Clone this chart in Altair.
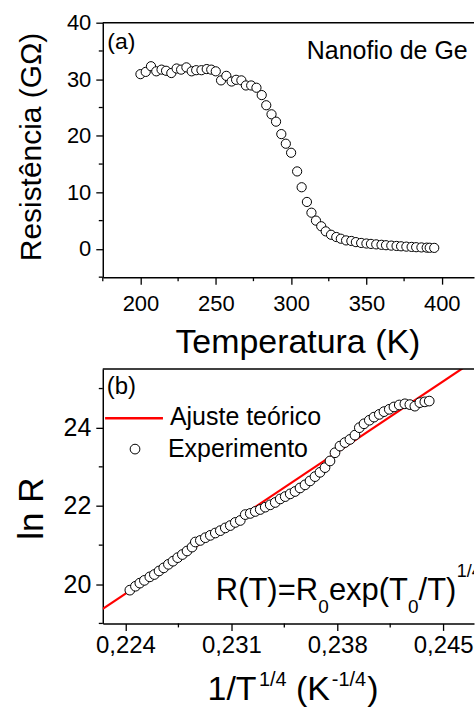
import altair as alt
import pandas as pd

FONT = "Liberation Sans"

# ---- Panel (a): resistance of the Ge nanowire vs temperature ----
temp_K = [200.0, 203.5, 207.0, 210.5, 214.0, 217.0, 220.5, 224.0, 227.0, 230.5,
          234.0, 237.0, 240.5, 244.0, 247.0, 250.0, 253.5, 257.0, 260.5, 263.5,
          267.0, 270.0, 273.5, 277.0, 280.5, 283.5, 287.0, 290.0, 293.5, 296.5,
          300.0, 304.0, 307.0, 310.5, 313.5, 316.5, 320.0, 323.0, 326.5, 330.0,
          333.0, 336.5, 340.0, 343.0, 346.5, 350.0, 353.0, 356.5, 360.0, 363.0,
          366.5, 370.0, 373.0, 376.5, 380.0, 383.0, 386.5, 390.0, 392.0, 395.0]
res_GOhm = [30.9, 31.3, 32.3, 31.4, 31.7, 31.5, 31.1, 31.9, 31.7, 32.1,
            31.4, 31.6, 31.6, 31.8, 31.7, 31.4, 29.8, 30.6, 29.6, 29.9,
            29.8, 28.9, 28.9, 28.5, 27.2, 25.4, 23.8, 22.5, 20.3, 18.6,
            17.0, 13.7, 10.9, 8.3, 6.4, 5.0, 4.0, 3.1, 2.5, 2.1,
            1.8, 1.5, 1.4, 1.2, 1.05, 0.95, 0.88, 0.8, 0.72, 0.65,
            0.58, 0.52, 0.46, 0.4, 0.35, 0.3, 0.26, 0.22, 0.2, 0.18]

# ---- Panel (b): ln R vs T^(-1/4) ----
inv_T14 = [0.22429, 0.22466, 0.22495, 0.22525, 0.22561, 0.22591, 0.22622, 0.22653,
           0.22684, 0.22714, 0.22745, 0.22776, 0.22807, 0.22840, 0.22862, 0.22895,
           0.22928, 0.22961, 0.22994, 0.23027, 0.23060, 0.23093, 0.23126, 0.23159,
           0.23192, 0.23225, 0.23258, 0.23291, 0.23324, 0.23357, 0.23390, 0.23423,
           0.23456, 0.23489, 0.23521, 0.23554, 0.23587, 0.23620, 0.23653, 0.23686,
           0.23719, 0.23752, 0.23785, 0.23818, 0.23851, 0.23884, 0.23917, 0.23946,
           0.23977, 0.24012, 0.24043, 0.24078, 0.24109, 0.24144, 0.24175, 0.24210,
           0.24247, 0.24280, 0.24313, 0.24346, 0.24379, 0.24408]
ln_R = [19.85, 19.95, 20.03, 20.10, 20.19, 20.25, 20.34, 20.42,
        20.51, 20.59, 20.68, 20.76, 20.85, 20.95, 21.08, 21.12,
        21.19, 21.25, 21.31, 21.37, 21.44, 21.50, 21.58, 21.63,
        21.78, 21.81, 21.86, 21.91, 21.97, 22.03, 22.09, 22.18,
        22.24, 22.31, 22.37, 22.46, 22.54, 22.64, 22.75, 22.86,
        22.98, 23.15, 23.36, 23.53, 23.62, 23.70, 23.81, 24.00,
        24.10, 24.19, 24.27, 24.34, 24.41, 24.47, 24.53, 24.58,
        24.61, 24.59, 24.55, 24.64, 24.66, 24.68]

# straight-line fit (Mott VRH): end points of the red line
fit_x = [0.2225, 0.2475]
fit_y = [19.372, 25.83]

# axis ticks
temp_ticks = [200, 250, 300, 350, 400]
temp_minor = [175, 225, 275, 325, 375]
res_ticks = [0, 10, 20, 30, 40]
res_minor = [-5, 5, 15, 25, 35]
xb_ticks = [0.224, 0.231, 0.238, 0.245]
xb_minor = [0.2275, 0.2345, 0.2415]
yb_ticks = [20, 22, 24]
yb_minor = [19, 21, 23, 25]

W, H = 372, 255

xa = alt.Scale(domain=[175, 421.4], nice=False, zero=False)
ya = alt.Scale(domain=[-5, 40], nice=False, zero=False)
xb = alt.Scale(domain=[0.2225, 0.24704], nice=False, zero=False)
yb = alt.Scale(domain=[19, 25.5], nice=False, zero=False)

one = pd.DataFrame({"k": [0]})


def minor_y(values, field, scale):
    return alt.Chart(pd.DataFrame({field: values})).mark_rule(
        color="black", strokeWidth=1.3
    ).encode(y=alt.Y(f"{field}:Q", scale=scale), x=alt.value(-4), x2=alt.value(0))


def minor_x(values, field, scale):
    return alt.Chart(pd.DataFrame({field: values})).mark_rule(
        color="black", strokeWidth=1.3
    ).encode(x=alt.X(f"{field}:Q", scale=scale), y=alt.value(H), y2=alt.value(H + 4))


def top_border():
    return alt.Chart(one).mark_rule(color="black", strokeWidth=1.5).encode(
        x=alt.value(0), x2=alt.value(W), y=alt.value(0)
    )


def label(text, x, y, size, clip=False):
    return alt.Chart(pd.DataFrame({"t": [text]})).mark_text(
        align="left", baseline="alphabetic", font=FONT, fontSize=size,
        color="black", clip=clip
    ).encode(x=alt.value(x), y=alt.value(y), text="t:N")


circle_style = dict(fill="white", stroke="black", strokeWidth=1, opacity=1)

# ---------------- panel (a) ----------------
df_a = pd.DataFrame({"T": temp_K, "R": res_GOhm})
points_a = alt.Chart(df_a).mark_circle(size=85, **circle_style).encode(
    x=alt.X("T:Q", scale=xa, axis=alt.Axis(
        values=temp_ticks, format="d", tickSize=7, labelFontSize=22, labelPadding=9,
        title="Temperatura (K)", titleFontSize=34, titleX=195, titleY=75,
        titleAlign="center", titleBaseline="alphabetic")),
    y=alt.Y("R:Q", scale=ya, axis=alt.Axis(
        values=res_ticks, format="d", tickSize=7, labelFontSize=22, labelPadding=5,
        title="Resistência (GΩ)", titleFontSize=30, titleX=-62, titleY=124,
        titleAngle=270, titleAlign="center", titleBaseline="alphabetic")),
)

panel_a = alt.layer(
    points_a,
    minor_y(res_minor, "R", ya), minor_x(temp_minor, "T", xa), top_border(),
    label("(a)", 4.5, 26.5, 23),
    label("Nanofio de Ge", 204.5, 36.3, 25),
).properties(width=W, height=H)

# ---------------- panel (b) ----------------
df_b = pd.DataFrame({"x": inv_T14, "y": ln_R})
df_fit = pd.DataFrame({"x": fit_x, "y": fit_y})

points_b = alt.Chart(df_b).mark_circle(size=95, **circle_style).encode(
    x=alt.X("x:Q", scale=xb, axis=alt.Axis(
        values=xb_ticks, tickSize=7, labelFontSize=24, labelPadding=3,
        labelExpr="replace(format(datum.value, '.3f'), '.', ',')", title=None)),
    y=alt.Y("y:Q", scale=yb, axis=alt.Axis(
        values=yb_ticks, format="d", tickSize=7, labelFontSize=25, labelPadding=5,
        title="ln R", titleFontSize=35, titleX=-60, titleY=139.5,
        titleAngle=270, titleAlign="center", titleBaseline="alphabetic")),
)

fit_line = alt.Chart(df_fit).mark_line(color="#ff0000", strokeWidth=2.2, clip=True).encode(
    x=alt.X("x:Q", scale=xb), y=alt.Y("y:Q", scale=yb)
)

legend_line = alt.Chart(one).mark_rule(color="#ff0000", strokeWidth=2.5).encode(
    x=alt.value(2.3), x2=alt.value(60.3), y=alt.value(49.3)
)
legend_dot = alt.Chart(one).mark_circle(size=95, **circle_style).encode(
    x=alt.value(32.3), y=alt.value(80.3)
)

panel_b = alt.layer(
    fit_line, points_b,
    minor_y(yb_minor, "y", yb), minor_x(xb_minor, "x", xb), top_border(),
    legend_line, legend_dot,
    label("Ajuste teórico", 67.3, 56, 25),
    label("Experimento", 65.3, 88, 25),
    label("(b)", 3.9, 25.3, 24),
    # R(T)=R0 exp(T0/T)^(1/4)
    label("R(T)=R", 113.3, 232, 31),
    label("0", 215.8, 245, 19),
    label("exp(T", 226.6, 232, 31),
    label("0", 305.8, 245, 19),
    label("/T)", 316.5, 232, 31),
    label("1/4", 354.8, 208, 18, clip=True),
    # x-axis title: 1/T^(1/4) (K^(-1/4))
    label("1/T", 105, 332, 34),
    label("1/4", 156.5, 318, 20),
    label("(K", 193.5, 332, 34),
    label("-1/4", 229.5, 318, 20),
    label(")", 265, 332, 34),
).properties(width=W, height=H)

chart = alt.vconcat(panel_a, panel_b, spacing=9).properties(
    padding={"left": 15, "top": 11, "right": 0, "bottom": 0}
).configure_view(stroke=None).configure_axis(
    grid=False, labelFont=FONT, titleFont=FONT, labelColor="black", titleColor="black",
    titleFontWeight="normal", tickColor="black", domainColor="black",
    tickWidth=1.3, domainWidth=1.5, labelFlush=False, labelOverlap=False,
)

chart.save("out.html", embed_options={"renderer": "svg", "actions": False})
